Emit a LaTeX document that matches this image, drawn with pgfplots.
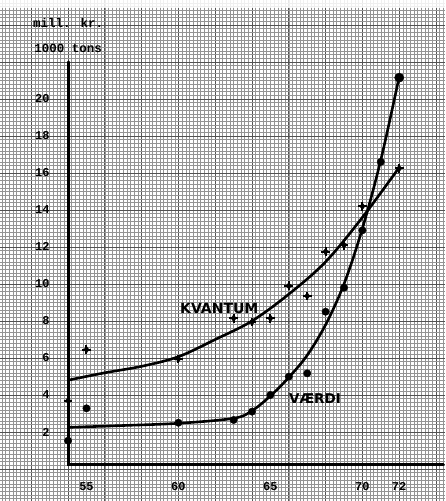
\documentclass[border=0pt]{standalone}
\usepackage{fontspec}
\usepackage{pgfplots}
\pgfplotsset{compat=1.18}
\setmainfont{DejaVu Sans}
\newfontfamily\tw{Liberation Mono}
\newfontfamily\lett{DejaVu Sans}

\begin{document}
\begin{tikzpicture}
\begin{axis}[
  scale only axis, width=445pt, height=501pt,
  xmin=50.30, xmax=74.49, ymin=-1.73, ymax=25.35,
  axis line style={draw=none},
  tick style={draw=none},
  xtick={52,54,...,74}, ytick={0,2,...,24},
  minor xtick={50.4,50.6,...,74.4},
  minor ytick={-1.6,-1.4,...,25.2},
  xticklabels={}, yticklabels={},
  grid=both,
  major grid style={black!68, line width=0.9pt},
  minor grid style={black!42, line width=0.5pt},
  clip=false,
]
% top white margin of the sheet
\fill[white, opacity=0.85] (axis cs:50.30,24.92) rectangle (axis cs:74.49,25.35);

% axes of the hand-drawn chart
\draw[line width=3pt, line cap=round] (axis cs:54,22.0) -- (axis cs:54,0.25) -- (axis cs:74.4,0.25);

% fitted curves
\addplot[black, line width=2.6pt, smooth, tension=0.55] coordinates {
 (54,4.8) (56,5.2) (58,5.55) (60,6.07) (62,7.0) (64,8.0) (66,9.45) (68,11.2) (70,13.6) (72,16.3)};
\addplot[black, line width=2.6pt, smooth, tension=0.55] coordinates {
 (54,2.25) (57,2.35) (60,2.47) (63,2.74) (64,3.15) (65,3.95) (66,4.95) (67,6.15) (68,7.8) (69,10.0) (70,13.0) (71,16.7) (72,21.2)};

% KVANTUM observations
\addplot[black, only marks, mark=+, mark size=4.4pt, line width=2pt] coordinates {
 (54,3.7) (55,6.45) (60,5.95) (63,8.15) (64,7.95) (65,8.15) (66,9.9) (67,9.35) (68,11.75) (69,12.1) (70,14.2) (72,16.25)};
\addplot[black, only marks, mark=diamond*, mark size=3.4pt] coordinates {
 (54,3.7) (55,6.45) (60,5.95) (63,8.15) (64,7.95) (65,8.15) (66,9.9) (67,9.35) (68,11.75) (69,12.1) (70,14.2) (72,16.25)};

% VAERDI observations
\addplot[black, only marks, mark=*, mark size=3.7pt] coordinates {
 (54,1.53) (55,3.28) (60,2.5) (63,2.65) (64,3.1) (65,4.0) (66,4.99) (67,5.17) (68,8.5) (69,9.8) (70,12.9) (71,16.6)};
\addplot[black, only marks, mark=*, mark size=4.6pt] coordinates {(72,21.15)};

% labels
\node[font=\lett\bfseries\fontsize{14}{14}\selectfont] at (axis cs:62.22,8.70) {KVANTUM};
\node[font=\lett\bfseries\fontsize{13.5}{13.5}\selectfont] at (axis cs:67.42,3.82) {VÆRDI};

\node[font=\tw\bfseries\fontsize{12.5}{12.5}\selectfont] at (axis cs:54,24.10) {mill. kr.};
\node[font=\tw\bfseries\fontsize{12.5}{12.5}\selectfont] at (axis cs:54,22.76) {1000 tons};

\pgfplotsinvokeforeach{2,4,...,20}{
  \node[anchor=east, inner sep=0pt, font=\tw\bfseries\fontsize{12}{12}\selectfont] at (axis cs:53.0,#1) {#1};
}
\pgfplotsinvokeforeach{55,60,65,70,72}{
  \node[inner sep=0pt, font=\tw\bfseries\fontsize{12}{12}\selectfont] at (axis cs:#1,-0.95) {#1};
}
\end{axis}
\pgfresetboundingbox
\useasboundingbox (current axis.south west) rectangle (current axis.north east);
\end{tikzpicture}
\end{document}
